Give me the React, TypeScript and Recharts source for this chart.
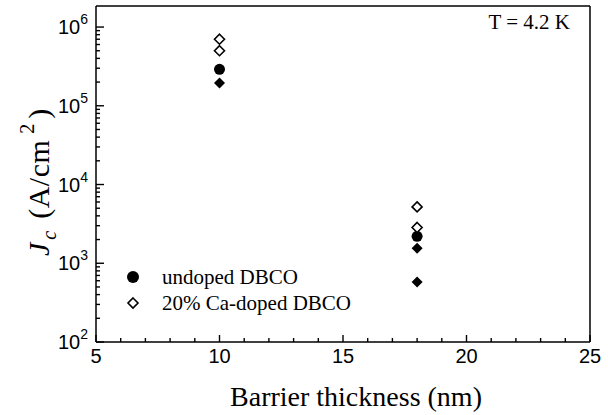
import React from 'react';
import {
  ScatterChart,
  Scatter,
  XAxis,
  YAxis,
  ReferenceLine,
  Legend,
} from 'recharts';

// barrier thickness (nm) vs critical current density Jc (A/cm^2)
const undopedCircles = [
  { x: 10, y: 290000 },
  { x: 18, y: 2200 },
];
const undopedDiamonds = [
  { x: 10, y: 195000 },
  { x: 18, y: 1550 },
  { x: 18, y: 580 },
];
const caDopedDiamonds = [
  { x: 10, y: 700000 },
  { x: 10, y: 500000 },
  { x: 18, y: 5200 },
  { x: 18, y: 2850 },
];

const SERIES_NAMES = ['undoped DBCO', '20% Ca-doped DBCO'];

const X_DOMAIN = [5, 25];
const X_MAJOR_TICKS = [5, 10, 15, 20, 25];
const X_MINOR_TICKS = [6, 7, 8, 9, 11, 12, 13, 14, 16, 17, 18, 19, 21, 22, 23, 24];

const Y_DOMAIN = [100, 1850000];
const Y_DECADES = [100, 1000, 10000, 100000, 1000000];
const Y_DECADE_EXP = ['2', '3', '4', '5', '6'];
const Y_MINOR_STEPS = [2, 3, 4, 5, 6, 7, 8, 9];

const Y_TICKS = Y_DECADES.flatMap((d, i) =>
  i < Y_DECADES.length - 1 ? [d, ...Y_MINOR_STEPS.map((m) => d * m)] : [d]
);
const X_TICKS = [...X_MAJOR_TICKS, ...X_MINOR_TICKS].sort((a, b) => a - b);

const SERIF = '"Liberation Serif", "Times New Roman", serif';
const SANS = '"Liberation Sans", Arial, sans-serif';

// ticks point inward, like the original plot
const renderXTick = (props: any) => {
  const { x, y, payload } = props;
  const major = X_MAJOR_TICKS.includes(payload.value);
  return (
    <g key={`xt-${payload.value}`}>
      <line x1={x} x2={x} y1={y} y2={y - (major ? 7 : 4)} stroke="#000" strokeWidth={1.4} />
      {major && (
        <text x={x} y={y + 21} textAnchor="middle" fontFamily={SANS} fontSize={20} fill="#000">
          {payload.value}
        </text>
      )}
    </g>
  );
};

const renderYTick = (props: any) => {
  const { x, y, payload } = props;
  const idx = Y_DECADES.indexOf(payload.value);
  const major = idx >= 0;
  return (
    <g key={`yt-${payload.value}`}>
      <line x1={x} x2={x + (major ? 8 : 4)} y1={y} y2={y} stroke="#000" strokeWidth={1.4} />
      {major && (
        <text x={x - 8} y={y + 7} textAnchor="end" fontFamily={SANS} fontSize={20} fill="#000">
          <tspan>10</tspan>
          <tspan fontSize={14} dy={-10}>{Y_DECADE_EXP[idx]}</tspan>
        </text>
      )}
    </g>
  );
};

const FilledCircle = (props: any) => <circle cx={props.cx} cy={props.cy} r={5.5} fill="#000" />;
const FilledDiamond = (props: any) => {
  const { cx, cy } = props;
  const r = 5.5;
  return <polygon points={`${cx},${cy - r} ${cx + r},${cy} ${cx},${cy + r} ${cx - r},${cy}`} fill="#000" />;
};
const OpenDiamond = (props: any) => {
  const { cx, cy } = props;
  const r = 5;
  return (
    <polygon
      points={`${cx},${cy - r} ${cx + r},${cy} ${cx},${cy + r} ${cx - r},${cy}`}
      fill="#fff"
      stroke="#000"
      strokeWidth={1.6}
    />
  );
};

const LegendBox = () => (
  <div style={{ fontFamily: SERIF, fontSize: 21, color: '#000', lineHeight: '26px' }}>
    <div style={{ display: 'flex', alignItems: 'center' }}>
      <svg width={30} height={14}>
        <circle cx={13} cy={7} r={6} fill="#000" />
      </svg>
      <span style={{ marginLeft: 12 }}>{SERIES_NAMES[0]}</span>
    </div>
    <div style={{ display: 'flex', alignItems: 'center' }}>
      <svg width={30} height={14}>
        <polygon points="13,2 18,7 13,12 8,7" fill="#fff" stroke="#000" strokeWidth={1.6} />
      </svg>
      <span style={{ marginLeft: 12 }}>{SERIES_NAMES[1]}</span>
    </div>
  </div>
);

const YLabel = () => {
  const cx = 49;
  const cy = 256;
  return (
    <text
      x={cx}
      y={cy}
      transform={`rotate(-90, ${cx}, ${cy})`}
      textAnchor="start"
      fontFamily={SERIF}
      fontSize={30}
      fill="#000"
    >
      <tspan fontStyle="italic">J</tspan>
      <tspan fontStyle="italic" fontSize={20} dy={7} dx={3}>c</tspan>
      <tspan dy={-7} dx={12} style={{ letterSpacing: 0.5 }}>(A/cm</tspan>
      <tspan fontSize={20} dy={-15} dx={6}>2</tspan>
      <tspan dy={15} dx={5}>)</tspan>
    </text>
  );
};

const XLabel = (props: any) => {
  const vb = props.viewBox;
  return (
    <text
      x={vb.x + vb.width / 2 + 13}
      y={406}
      textAnchor="middle"
      fontFamily={SERIF}
      fontSize={28}
      fill="#000"
    >
      Barrier thickness (nm)
    </text>
  );
};

const TempLabel = (props: any) => {
  const vb = props.viewBox;
  return (
    <text x={vb.x + vb.width - 20} y={vb.y + 23} textAnchor="end" fontFamily={SERIF} fontSize={21} fill="#000">
      T = 4.2 K
    </text>
  );
};

export default function App() {
  return (
    <div style={{ position: 'absolute', left: 0, top: 0, background: '#fff' }}>
      <ScatterChart width={608} height={415} margin={{ top: 6, right: 18, left: 0, bottom: 0 }}>
        <XAxis
          type="number"
          dataKey="x"
          domain={X_DOMAIN}
          ticks={X_TICKS}
          interval={0}
          allowDataOverflow
          height={73}
          tickSize={0}
          tickMargin={0}
          tickLine={false}
          tick={renderXTick}
          axisLine={{ stroke: '#000', strokeWidth: 1.5 }}
          label={<XLabel />}
        />
        <YAxis
          type="number"
          dataKey="y"
          scale="log"
          domain={Y_DOMAIN}
          ticks={Y_TICKS}
          interval={0}
          allowDataOverflow
          width={96}
          tickSize={0}
          tickMargin={0}
          tickLine={false}
          tick={renderYTick}
          axisLine={{ stroke: '#000', strokeWidth: 1.5 }}
          label={<YLabel />}
        />
        <ReferenceLine y={Y_DOMAIN[1]} stroke="#000" strokeWidth={1.5} label={<TempLabel />} />
        <ReferenceLine x={X_DOMAIN[1]} stroke="#000" strokeWidth={1.5} />
        <Legend
          layout="vertical"
          align="center"
          verticalAlign="middle"
          wrapperStyle={{ left: 120, top: 264, width: 280 }}
          content={() => <LegendBox />}
        />
        <Scatter name={SERIES_NAMES[0]} data={undopedCircles} shape={<FilledCircle />} isAnimationActive={false} />
        <Scatter name="undoped DBCO (diamond)" data={undopedDiamonds} shape={<FilledDiamond />} legendType="none" isAnimationActive={false} />
        <Scatter name={SERIES_NAMES[1]} data={caDopedDiamonds} shape={<OpenDiamond />} isAnimationActive={false} />
      </ScatterChart>
    </div>
  );
}
